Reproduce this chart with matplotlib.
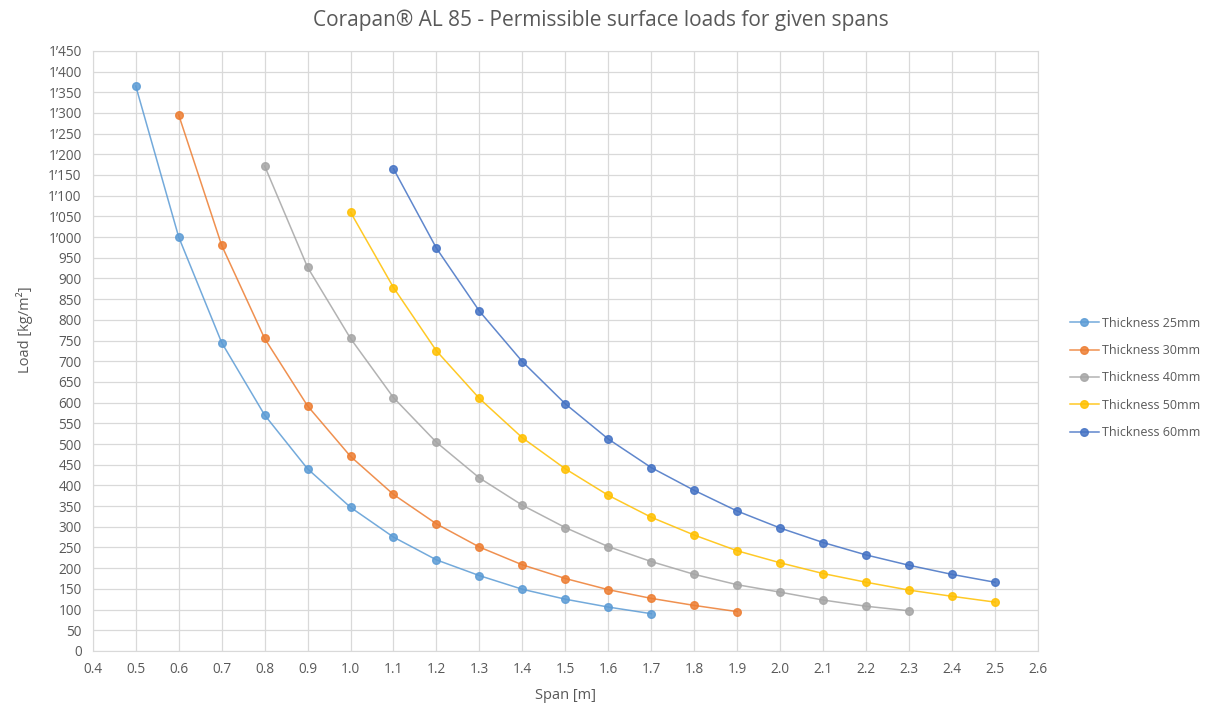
import matplotlib
matplotlib.use('Agg')
import matplotlib.pyplot as plt
from matplotlib.ticker import FuncFormatter, MultipleLocator
import numpy as np

plt.rcParams['font.family'] = ['Open Sans', 'DejaVu Sans']

# spans [m] and permissible loads [kg/m2] per thickness
span_25 = [0.5, 0.6, 0.7, 0.8, 0.9, 1.0, 1.1, 1.2, 1.3, 1.4, 1.5, 1.6, 1.7]
load_25 = [1365, 1000, 745, 570, 440, 347, 275, 220, 182, 149, 125, 106, 90]

span_30 = [0.6, 0.7, 0.8, 0.9, 1.0, 1.1, 1.2, 1.3, 1.4, 1.5, 1.6, 1.7, 1.8, 1.9]
load_30 = [1295, 980, 755, 592, 470, 378, 307, 251, 208, 175, 148, 127, 110, 95]

span_40 = [0.8, 0.9, 1.0, 1.1, 1.2, 1.3, 1.4, 1.5, 1.6, 1.7, 1.8, 1.9, 2.0, 2.1, 2.2, 2.3]
load_40 = [1172, 927, 755, 612, 504, 418, 352, 298, 252, 216, 185, 160, 142, 123, 108, 97]

span_50 = [1.0, 1.1, 1.2, 1.3, 1.4, 1.5, 1.6, 1.7, 1.8, 1.9, 2.0, 2.1, 2.2, 2.3, 2.4, 2.5]
load_50 = [1060, 878, 725, 610, 515, 440, 376, 323, 280, 242, 213, 187, 166, 147, 132, 118]

span_60 = [1.1, 1.2, 1.3, 1.4, 1.5, 1.6, 1.7, 1.8, 1.9, 2.0, 2.1, 2.2, 2.3, 2.4, 2.5]
load_60 = [1165, 973, 821, 699, 597, 512, 443, 388, 338, 297, 262, 232, 207, 185, 166]

series = [
    ('Thickness 25mm', span_25, load_25, '#5B9BD5'),
    ('Thickness 30mm', span_30, load_30, '#ED7D31'),
    ('Thickness 40mm', span_40, load_40, '#A5A5A5'),
    ('Thickness 50mm', span_50, load_50, '#FFC000'),
    ('Thickness 60mm', span_60, load_60, '#4472C4'),
]

fig = plt.figure(figsize=(12.21, 7.06), dpi=100)
ax = fig.add_axes([0.076, 0.078, 0.774, 0.85])

for name, xs, ys, col in series:
    ax.plot(xs, ys, color=col, lw=1.1, alpha=0.85, marker='o', ms=5.5,
            mfc=col, mec=col, label=name)

ax.set_xlim(0.4, 2.6)
ax.set_ylim(0, 1450)
ax.xaxis.set_major_locator(MultipleLocator(0.1))
ax.yaxis.set_major_locator(MultipleLocator(50))
ax.xaxis.set_major_formatter(FuncFormatter(lambda v, p: '%.1f' % v))

def fmt_y(v, p):
    v = int(round(v))
    if v >= 1000:
        return '%d\u2019%03d' % (v // 1000, v % 1000)
    return str(v)

ax.yaxis.set_major_formatter(FuncFormatter(fmt_y))
ax.grid(True, color='#D9D9D9', lw=0.9)
ax.set_axisbelow(True)
for s in ax.spines.values():
    s.set_color('#D9D9D9')
ax.tick_params(length=0, labelsize=9.8, colors='#595959', pad=8)

ax.set_xlabel('Span [m]', fontsize=10.5, color='#595959', labelpad=8)
ax.set_ylabel('Load [kg/m\u00b2]', fontsize=10.5, color='#595959', labelpad=14)
ax.yaxis.set_label_coords(-0.063, 0.535)
fig.text(0.492, 0.972, 'Corapan\u00ae AL 85 - Permissible surface loads for given spans',
         ha='center', va='center', fontsize=15, color='#595959')

ax.legend(loc='center left', bbox_to_anchor=(1.022, 0.455), frameon=False,
          fontsize=9, labelcolor='#595959', handlelength=2.3, labelspacing=1.15,
          handletextpad=0.3)

fig.savefig('out.png', dpi=100)
